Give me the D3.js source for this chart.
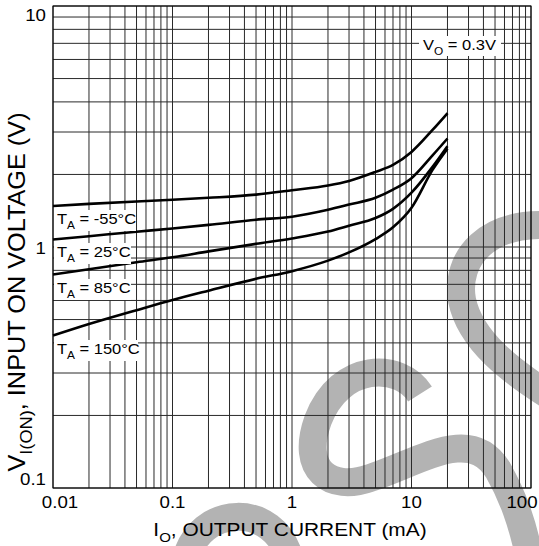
<html lang="en">
  <head>
    <meta charset="utf-8" />
    <title>Input on voltage vs output current</title>
    <script src="https://cdn.jsdelivr.net/npm/d3@7/dist/d3.min.js"></script>
    <style>
      body { margin: 0; background: #fff; }
      text { font-family: "Liberation Sans", Arial, sans-serif; fill: #000; }
    </style>
  </head>
  <body>
    <script type="text/javascript">
      /*************************** Data ***************************/

      var current = [0.01, 0.02, 0.05, 0.1, 0.2, 0.5, 1, 2, 3, 5, 7, 10, 15, 20];
      var vMinus55 = [1.48, 1.51, 1.545, 1.57, 1.6, 1.65, 1.72, 1.8, 1.88, 2.05, 2.19, 2.48, 3.06, 3.59];
      var v25 = [1.074, 1.109, 1.157, 1.193, 1.235, 1.298, 1.336, 1.428, 1.5, 1.6, 1.73, 1.93, 2.4, 2.82];
      var v85 = [0.769, 0.808, 0.864, 0.906, 0.959, 1.031, 1.085, 1.159, 1.226, 1.319, 1.44, 1.68, 2.15, 2.62];
      var v150 = [0.429, 0.479, 0.547, 0.603, 0.659, 0.738, 0.794, 0.878, 0.95, 1.079, 1.207, 1.455, 2.09, 2.56];

      var seriesNames = ["-55°C", "25°C", "85°C", "150°C"];
      var xTicks = [0.01, 0.1, 1, 10, 100];
      var xTickLabels = ["0.01", "0.1", "1", "10", "100"];
      var yTicks = [0.1, 1, 10];
      var yTickLabels = ["0.1", "1", "10"];

      /*************************** Canvas ***************************/

      var W = 539, H = 546;
      var svg = d3.select("body").append("svg").attr("width", W).attr("height", H);

      var x = d3.scaleLog().domain([0.01, 100]).range([53, 531]);
      var y = d3.scaleLog().domain([0.1, 10]).range([488, 6]);

      // stretched text helper (the original lettering is a bit wide)
      function stext(px, py, size, anchor, parts, rot) {
        var g = svg.append("g")
          .attr("transform", "translate(" + px + "," + py + ")" + (rot ? " rotate(-90)" : "") + " scale(1.1,1)");
        var t = g.append("text").attr("font-size", size).attr("text-anchor", anchor);
        parts.forEach(function (p) {
          var ts = t.append("tspan").text(p.t);
          if (p.sub) ts.attr("font-size", size * 0.72).attr("dy", size * 0.3);
          if (p.up) ts.attr("dy", -size * 0.3);
        });
        return g;
      }

      /*************************** Watermark ***************************/

      var wm = svg.append("g").attr("fill", "none").attr("stroke", "#b3b3b3").attr("stroke-width", 28);
      wm.append("path").attr("d", "M186,560 C198,505 275,500 290,560");
      wm.append("path").attr("d", "M420,394 C400,362 340,362 318,420 C300,470 330,492 370,478 C420,462 470,425 498,470 C512,495 522,520 530,560");
      wm.append("path").attr("d", "M560,226 C485,218 455,260 462,300 C470,340 510,372 560,402");

      /*************************** Grid ***************************/

      var xGrid = [], yGrid = [];
      [0.01, 0.1, 1, 10].forEach(function (d) {
        for (var k = 1; k < 10; k++) xGrid.push(d * k);
      });
      xGrid.push(100);
      [0.1, 1].forEach(function (d) {
        for (var k = 1; k < 10; k++) yGrid.push(d * k);
      });
      yGrid.push(10);

      var grid = svg.append("g").attr("stroke", "#2a2a2a").attr("stroke-width", 1);
      grid.selectAll(".vx").data(xGrid).enter().append("line")
        .attr("x1", function (d) { return x(d); }).attr("x2", function (d) { return x(d); })
        .attr("y1", y(10)).attr("y2", y(0.1));
      grid.selectAll(".hy").data(yGrid).enter().append("line")
        .attr("y1", function (d) { return y(d); }).attr("y2", function (d) { return y(d); })
        .attr("x1", x(0.01)).attr("x2", x(100));

      /*************************** Curves ***************************/

      var line = d3.line()
        .x(function (d) { return x(d[0]); })
        .y(function (d) { return y(d[1]); })
        .curve(d3.curveMonotoneX);

      [vMinus55, v25, v85, v150].forEach(function (s) {
        svg.append("path")
          .datum(current.map(function (c, i) { return [c, s[i]]; }))
          .attr("fill", "none").attr("stroke", "#000").attr("stroke-width", 2.6)
          .attr("d", line);
      });

      /*************************** Labels ***************************/

      var labelY = [224, 257, 293, 354];
      var boxW = [82, 77, 77, 84];
      seriesNames.forEach(function (n, i) {
        svg.append("rect").attr("x", 54).attr("y", labelY[i] - 14).attr("width", boxW[i]).attr("height", 21).attr("fill", "#fff");
        stext(57, labelY[i], 15, "start", [{ t: "T" }, { t: "A", sub: 1 }, { t: " = " + n, up: 1 }]);
      });

      svg.append("rect").attr("x", 419).attr("y", 36).attr("width", 82).attr("height", 20).attr("fill", "#fff");
      stext(423, 50, 15, "start", [{ t: "V" }, { t: "O", sub: 1 }, { t: " = 0.3V", up: 1 }]);

      // ticks
      xTicks.forEach(function (d, i) {
        var px = x(d);
        if (i === 0) px += 7;
        if (i === xTicks.length - 1) px -= 9;
        stext(px, 508, 17, "middle", [{ t: xTickLabels[i] }]);
      });
      yTicks.forEach(function (d, i) {
        var py = Math.max(21, Math.min(485, y(d) + 7));
        stext(46, py, 17, "end", [{ t: yTickLabels[i] }]);
      });

      // axis titles
      stext(290, 536, 19, "middle", [{ t: "I" }, { t: "O", sub: 1 }, { t: ", OUTPUT CURRENT (mA)", up: 1 }]);
      stext(25, 292, 23, "middle", [{ t: "V" }, { t: "I(ON)", sub: 1 }, { t: ", INPUT ON VOLTAGE (V)", up: 1 }], true);

      // frame
      svg.append("rect").attr("x", x(0.01)).attr("y", y(10))
        .attr("width", x(100) - x(0.01)).attr("height", y(0.1) - y(10))
        .attr("fill", "none").attr("stroke", "#000").attr("stroke-width", 1);
    </script>
  </body>
</html>
